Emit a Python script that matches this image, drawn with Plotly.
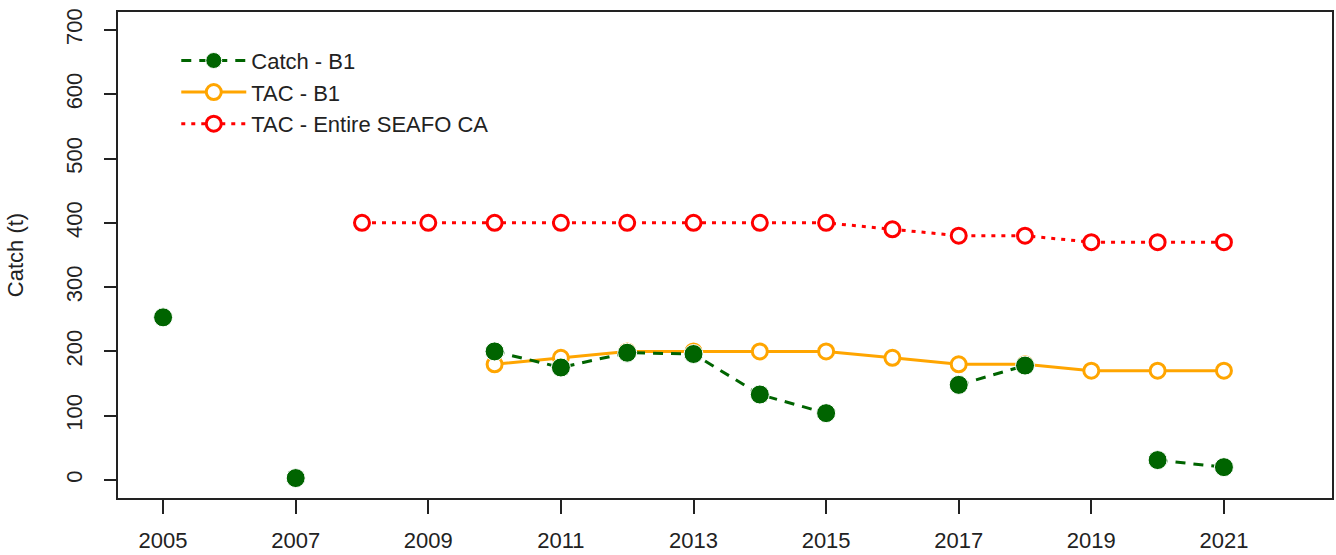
import plotly.graph_objects as go

# values
years = list(range(2005, 2022))
catch_b1 = [253, None, 3, None, None, 200, 175, 198, 196, 133, 104, None, 148, 178, None, 31, 20]
tac_b1 = [None, None, None, None, None, 180, 190, 200, 200, 200, 200, 190, 180, 180, 170, 170, 170]
tac_seafo = [None, None, None, 400, 400, 400, 400, 400, 400, 400, 400, 390, 380, 380, 370, 370, 370]

x_ticks = [2005, 2007, 2009, 2011, 2013, 2015, 2017, 2019, 2021]
y_ticks = [0, 100, 200, 300, 400, 500, 600, 700]

FONT = "Liberation Sans, Arial, sans-serif"

fig = go.Figure()

# drawn bottom-up so Catch sits on top
fig.add_trace(
    go.Scatter(
        x=years,
        y=tac_seafo,
        mode="lines+markers",
        name="TAC - Entire SEAFO CA",
        line=dict(color="red", width=3, dash="4px,6px"),
        marker=dict(symbol="circle", size=15, color="white", line=dict(color="red", width=3)),
        connectgaps=False,
        legendrank=3,
    )
)
fig.add_trace(
    go.Scatter(
        x=years,
        y=tac_b1,
        mode="lines+markers",
        name="TAC - B1",
        line=dict(color="orange", width=3),
        marker=dict(symbol="circle", size=15, color="white", line=dict(color="orange", width=3)),
        connectgaps=False,
        legendrank=2,
    )
)
fig.add_trace(
    go.Scatter(
        x=years,
        y=catch_b1,
        mode="lines+markers",
        name="Catch - B1",
        line=dict(color="#006400", width=3, dash="10px,8px"),
        marker=dict(symbol="circle", size=19, color="#006400", line=dict(color="white", width=1)),
        connectgaps=False,
        legendrank=1,
    )
)

fig.update_layout(
    width=1336,
    height=555,
    margin=dict(l=118, r=2, t=12, b=57),
    paper_bgcolor="white",
    plot_bgcolor="white",
    font=dict(family=FONT, size=22, color="#222222"),
    legend=dict(
        x=0.048,
        y=0.943,
        xanchor="left",
        yanchor="top",
        bgcolor="rgba(0,0,0,0)",
        font=dict(size=22),
        itemwidth=65,
        tracegroupgap=0,
    ),
)

fig.update_xaxes(
    range=[2004.32, 2022.63],
    tickvals=x_ticks,
    ticks="outside",
    ticklen=14,
    tickwidth=1.5,
    tickcolor="#222222",
    showline=True,
    linecolor="#222222",
    linewidth=2,
    mirror=True,
    showgrid=False,
    zeroline=False,
    ticklabelstandoff=8,
)
fig.update_yaxes(
    range=[-28, 728],
    tickvals=y_ticks,
    tickangle=-90,
    ticks="outside",
    ticklen=12,
    tickwidth=1.5,
    tickcolor="#222222",
    showline=True,
    linecolor="#222222",
    linewidth=2,
    mirror=True,
    showgrid=False,
    zeroline=False,
    ticklabelstandoff=13,
    title=dict(text="Catch (t)", font=dict(size=22), standoff=33),
)

# page body margin would shift the chart, drop it
fig.write_html(
    "out.html",
    config={"displayModeBar": False},
    post_script="document.body.style.margin='0';",
)
